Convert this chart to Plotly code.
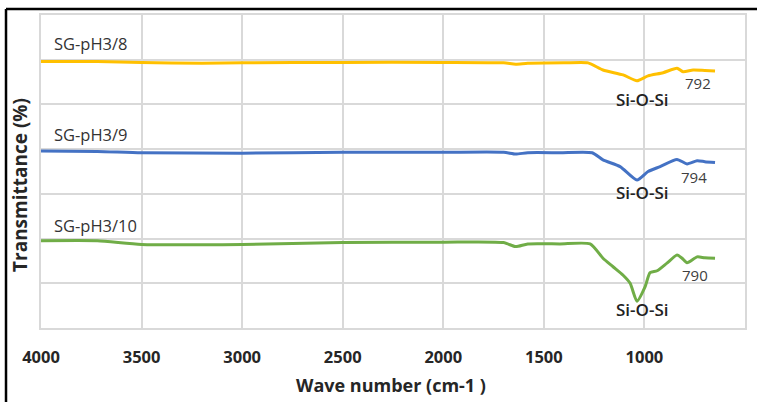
import plotly.graph_objects as go

# Wavenumbers (cm-1) and transmittance (arbitrary offset units)
wn_y = [4000, 3720, 3500, 3200, 3000, 2500, 2000, 1700, 1640, 1580, 1400, 1280, 1206, 1106, 1037, 982, 907, 838, 808, 758, 700, 649]
t_y  = [5.96, 5.96, 5.94, 5.92, 5.93, 5.94, 5.94, 5.93, 5.90, 5.92, 5.93, 5.93, 5.77, 5.66, 5.53, 5.64, 5.71, 5.81, 5.73, 5.77, 5.76, 5.75]

wn_b = [4000, 3720, 3500, 3000, 2500, 2000, 1700, 1640, 1580, 1420, 1260, 1206, 1121, 1037, 982, 922, 838, 788, 738, 700, 649]
t_b  = [3.96, 3.95, 3.92, 3.91, 3.93, 3.93, 3.93, 3.89, 3.92, 3.92, 3.92, 3.76, 3.61, 3.31, 3.50, 3.61, 3.77, 3.67, 3.74, 3.72, 3.70]

wn_g = [4000, 3720, 3500, 3000, 2500, 2000, 1700, 1640, 1580, 1420, 1270, 1206, 1156, 1106, 1071, 1037, 997, 972, 937, 888, 838, 813, 788, 738, 700, 649]
t_g  = [1.95, 1.95, 1.87, 1.87, 1.91, 1.92, 1.91, 1.82, 1.88, 1.88, 1.88, 1.56, 1.37, 1.18, 1.00, 0.60, 0.92, 1.24, 1.28, 1.45, 1.63, 1.56, 1.46, 1.59, 1.57, 1.56]

series_names = ["SG-pH3/8", "SG-pH3/9", "SG-pH3/10"]
series_colors = ["#FFC000", "#4472C4", "#70AD47"]

x_ticks = [4000, 3500, 3000, 2500, 2000, 1500, 1000, 500]

# labels: (text, x, y)
name_labels = [("SG-pH3/8", 3945, 6.37), ("SG-pH3/9", 3945, 4.32), ("SG-pH3/10", 3945, 2.30)]
band_labels = [("Si-O-Si", 1009, 5.10), ("Si-O-Si", 1009, 3.04), ("Si-O-Si", 1009, 0.42)]
peak_labels = [("792", 736, 5.49), ("794", 756, 3.38), ("790", 748, 1.18)]

fig = go.Figure()
for xs, ys, name, col in zip([wn_y, wn_b, wn_g], [t_y, t_b, t_g], series_names, series_colors):
    fig.add_trace(go.Scatter(x=xs, y=ys, mode="lines", name=name,
                             line=dict(color=col, width=3, shape="spline", smoothing=0.6)))

annotations = []
for txt, x, y in name_labels:
    annotations.append(dict(text=txt, x=x, y=y, xref="x", yref="y", xanchor="left", yanchor="middle",
                            showarrow=False, font=dict(family="Open Sans", size=16.5, color="#333333")))
for txt, x, y in band_labels:
    annotations.append(dict(text=txt, x=x, y=y, xref="x", yref="y", xanchor="center",
                            yanchor="middle", showarrow=False,
                            font=dict(family="Open Sans", size=17, weight=600, color="#222222")))
for txt, x, y in peak_labels:
    annotations.append(dict(text=txt, x=x, y=y, xref="x", yref="y", xanchor="center", yanchor="middle",
                            showarrow=False, font=dict(family="Open Sans", size=15, color="#404040")))
annotations.append(dict(text="<b>Wave number (cm-1 )</b>", x=0.497, y=-0.182, xref="paper", yref="paper",
                        xanchor="center", yanchor="middle", showarrow=False,
                        font=dict(family="Open Sans", size=18, color="#262626")))
annotations.append(dict(text="<b>Transmittance (%)</b>", x=-0.0298, y=0.457, xref="paper", yref="paper",
                        xanchor="center", yanchor="middle", showarrow=False, textangle=-90,
                        font=dict(family="Open Sans", size=19, color="#262626")))

fig.update_layout(
    width=757, height=402,
    autosize=False,
    margin=dict(l=41, r=12, t=15, b=74, autoexpand=False),
    paper_bgcolor="white", plot_bgcolor="white",
    showlegend=False,
    annotations=annotations,
    shapes=[
        dict(type="line", xref="paper", yref="paper", x0=-0.0497, x1=1.02, y0=1.019, y1=1.019,
             line=dict(color="black", width=2.5)),
        dict(type="line", xref="paper", yref="paper", x0=-0.0497, x1=-0.0497, y0=1.019, y1=-0.24,
             line=dict(color="black", width=2.5)),
    ],
)
fig.update_xaxes(range=[4000, 500], tickvals=x_ticks, ticktext=["<b>%d</b>" % v for v in x_ticks],
                 automargin=False,
                 showgrid=True, gridcolor="#d9d9d9", gridwidth=1.5,
                 showline=True, linecolor="#d9d9d9", linewidth=1.5, mirror=True,
                 zeroline=False, ticks="", ticklabelstandoff=13,
                 tickfont=dict(family="Open Sans", size=16.5, color="#262626"))
fig.update_yaxes(range=[0, 7], dtick=1, showticklabels=False, showgrid=True, gridcolor="#d9d9d9",
                 automargin=False,
                 gridwidth=1.5, showline=True, linecolor="#d9d9d9", linewidth=1.5, mirror=True,
                 zeroline=False, ticks="")
fig.write_html("out.html")
